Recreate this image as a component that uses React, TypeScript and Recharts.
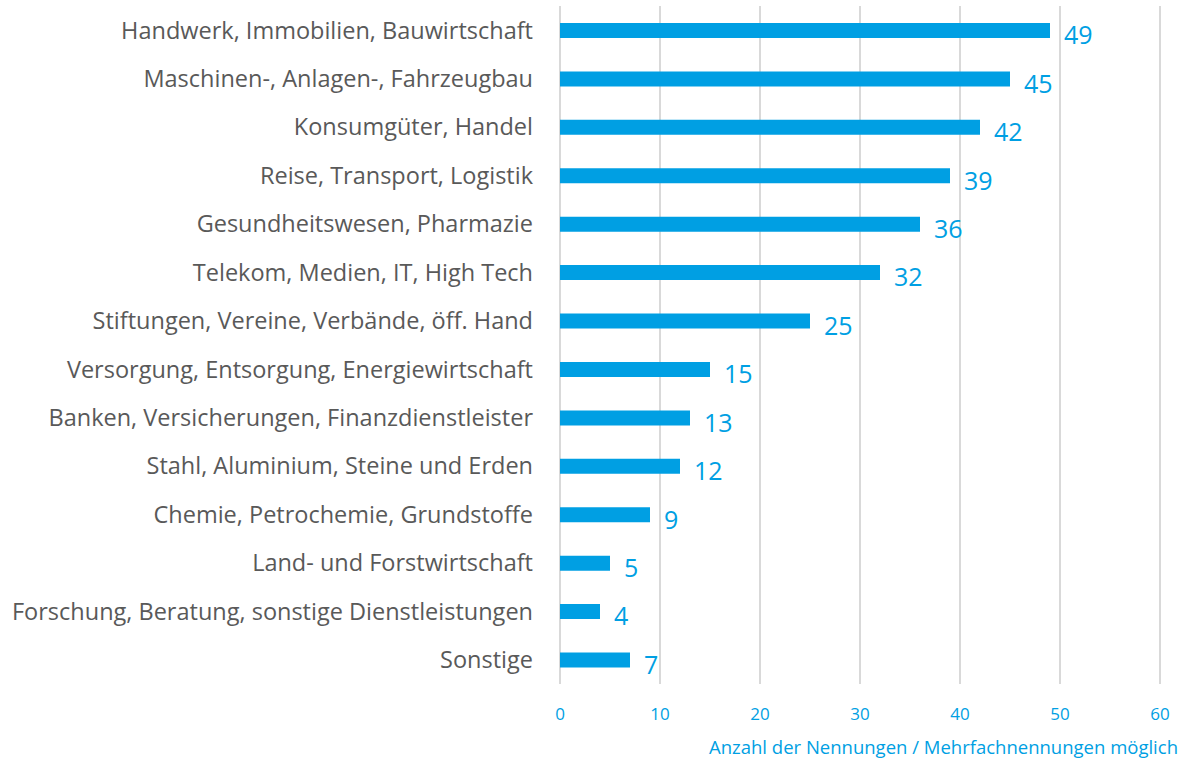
import { BarChart, Bar, XAxis, YAxis, CartesianGrid, LabelList } from 'recharts'

const CATEGORIES = [
  'Handwerk, Immobilien, Bauwirtschaft',
  'Maschinen-, Anlagen-, Fahrzeugbau',
  'Konsumgüter, Handel',
  'Reise, Transport, Logistik',
  'Gesundheitswesen, Pharmazie',
  'Telekom, Medien, IT, High Tech',
  'Stiftungen, Vereine, Verbände, öff. Hand',
  'Versorgung, Entsorgung, Energiewirtschaft',
  'Banken, Versicherungen, Finanzdienstleister',
  'Stahl, Aluminium, Steine und Erden',
  'Chemie, Petrochemie, Grundstoffe',
  'Land- und Forstwirtschaft',
  'Forschung, Beratung, sonstige Dienstleistungen',
  'Sonstige',
]
const NENNUNGEN = [49, 45, 42, 39, 36, 32, 25, 15, 13, 12, 9, 5, 4, 7]
const X_TICKS = [0, 10, 20, 30, 40, 50, 60]
const X_TITLE = 'Anzahl der Nennungen / Mehrfachnennungen möglich'

const BLUE = '#009FE3'
const FONT = '"Open Sans", sans-serif'

const data = CATEGORIES.map((name, i) => ({ name, value: NENNUNGEN[i] }))

export default function App() {
  return (
    <div style={{ position: 'absolute', left: 0, top: 0, background: '#fff', fontFamily: FONT }}>
      <BarChart
        width={1189}
        height={759}
        data={data}
        layout="vertical"
        barCategoryGap="35%"
        margin={{ top: 6, right: 29, left: 0, bottom: 0 }}
      >
        <CartesianGrid horizontal={false} stroke="#d9d9d9" strokeWidth={2} />
        <XAxis
          type="number"
          domain={[0, 60]}
          ticks={X_TICKS}
          height={75}
          tickLine={false}
          axisLine={false}
          tick={{ fill: BLUE, fontSize: 17, fontFamily: FONT, dy: 16 }}
          label={{ value: X_TITLE, position: 'insideBottomRight', offset: 5, dx: 23, fill: BLUE, fontSize: 18.5, fontFamily: FONT }}
        />
        <YAxis
          type="category"
          dataKey="name"
          width={560}
          tickLine={false}
          axisLine={false}
          tickMargin={21}
          interval={0}
          tick={{ fill: '#595959', fontSize: 23.5, fontFamily: FONT }}
        />
        <Bar dataKey="value" fill={BLUE} isAnimationActive={false}>
          <LabelList dataKey="value" position="right" offset={14} dy={5} fill={BLUE} fontSize={25} fontFamily={FONT} />
        </Bar>
      </BarChart>
    </div>
  )
}
